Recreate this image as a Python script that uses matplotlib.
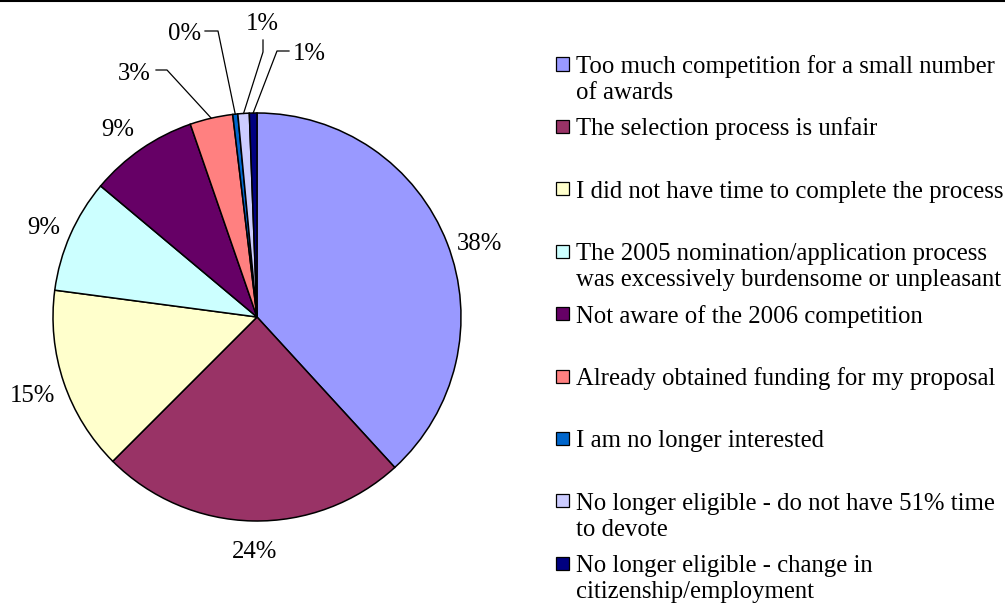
import numpy as np
import matplotlib
matplotlib.use("Agg")
import matplotlib.pyplot as plt
from matplotlib.patches import Rectangle
from matplotlib.lines import Line2D

plt.rcParams['font.family'] = ['Liberation Serif', 'DejaVu Serif']

# data (percent of respondents)
reasons = [
    "Too much competition for a small number\nof awards",
    "The selection process is unfair",
    "I did not have time to complete the process",
    "The 2005 nomination/application process\nwas excessively burdensome or unpleasant",
    "Not aware of the 2006 competition",
    "Already obtained funding for my proposal",
    "I am no longer interested",
    "No longer eligible - do not have 51% time\nto devote",
    "No longer eligible - change in\ncitizenship/employment",
]
shares = [38.2, 24.3, 14.6, 9.0, 8.6, 3.4, 0.4, 0.9, 0.6]
colours = ['#9999FF', '#993366', '#FFFFCC', '#CCFFFF', '#660066',
           '#FF8080', '#0066CC', '#CCCCFF', '#000080']

W, H = 1005, 605
cx, cy, R = 257, 317, 204   # pie centre / radius in pixels
FS = 17.8

def px(x, y):
    # pixel (from top-left) -> pie data units
    return (x - cx) / R, (cy - y) / R

# label text centres, in pixels
label_px = [(479, 241), (255, 550), (32, 393), (44, 225), (118, 127),
            (134, 72), (185, 32), (262, 22), (309, 52)]
# leader line bends for the small slices, in pixels
leader_px = {
    5: [(167, 70), (156, 70)],
    6: [(218, 31), (205, 31)],
    7: [(263, 52), (263, 40)],
    8: [(277, 51), (289, 51)],
}

fig = plt.figure(figsize=(W / 100, H / 100), dpi=100)
ax = fig.add_axes([(cx - R) / W, (H - cy - R) / H, 2 * R / W, 2 * R / H])
wedges, _ = ax.pie(shares, colors=colours, startangle=90, counterclock=False,
                   radius=1, wedgeprops=dict(edgecolor='black', linewidth=1.1))
ax.set_xlim(-1, 1)
ax.set_ylim(-1, 1)
ax.axis('off')

for i, (w, v) in enumerate(zip(wedges, shares)):
    lx, ly = px(*label_px[i])
    ax.text(lx, ly, f"{round(v)}%", fontsize=FS, ha='center',
            va='center_baseline', clip_on=False)
    if i in leader_px:
        mid = np.deg2rad((w.theta1 + w.theta2) / 2)
        xs = [np.cos(mid)] + [px(*p)[0] for p in leader_px[i]]
        ys = [np.sin(mid)] + [px(*p)[1] for p in leader_px[i]]
        ax.add_line(Line2D(xs, ys, color='black', lw=0.9, clip_on=False))

# legend drawn by hand
sq = 13
for i, (txt, col) in enumerate(zip(reasons, colours)):
    yc = 64 + i * 62.4
    fig.add_artist(Rectangle((556 / W, 1 - (yc + sq / 2) / H), sq / W, sq / H,
                             facecolor=col, edgecolor='black', lw=0.9,
                             transform=fig.transFigure))
    for j, line in enumerate(txt.split("\n")):
        fig.text(576 / W, 1 - (yc + 9 + 26 * j) / H, line, fontsize=FS,
                 ha='left', va='baseline')

# top border
fig.add_artist(Line2D([0, 1], [1 - 1 / H, 1 - 1 / H], color='black', lw=1.5,
                      transform=fig.transFigure))

fig.savefig("out.png", dpi=100)
